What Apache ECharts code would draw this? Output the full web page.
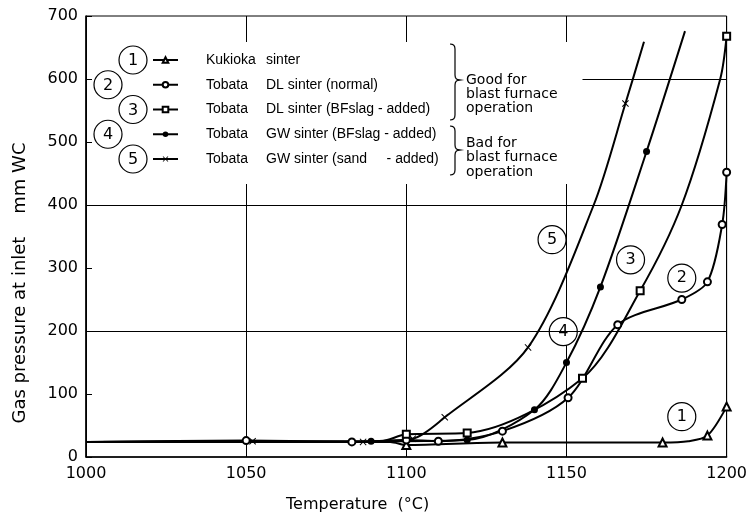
<!DOCTYPE html>
<html>
<head>
<meta charset="utf-8">
<script src="https://cdn.jsdelivr.net/npm/echarts@6/dist/echarts.min.js"></script>
<style>
  html, body { margin: 0; background: #fff; }
  #chart { width: 750px; height: 515px; }
</style>
</head>
<body>
<div id="chart"></div>
<script>
// legend wording, two columns
var sourceNames = ['Kukioka', 'Tobata', 'Tobata', 'Tobata', 'Tobata'];
var kindNames = ['sinter', 'DL sinter (normal)', 'DL sinter (BFslag - added)',
  'GW sinter (BFslag - added)', 'GW sinter (sand     - added)'];
var tagNumbers = ['1', '2', '3', '4', '5'];

// temperature (°C) / gas pressure (mm WC)
// plain = indices drawn without a marker
var tempKukioka = [1000, 1095, 1100, 1130, 1180, 1188, 1194, 1200];
var presKukioka = [24, 24, 19, 23, 23, 25, 34, 80];
var plainKukioka = [0, 1, 5];

var tempDlNormal = [1000, 1050, 1083, 1100, 1110, 1130, 1150.5, 1166, 1186, 1194, 1198.6, 1200];
var presDlNormal = [24, 26, 24, 27, 25, 41, 94, 210, 250, 278, 369, 452];
var plainDlNormal = [0];

var tempDlSlag = [1000, 1092, 1100, 1119, 1155, 1173, 1186, 1198, 1200];
var presDlSlag = [24, 25, 36, 38, 125, 264, 400, 600, 668];
var plainDlSlag = [0, 1, 6, 7];

var tempGwSlag = [1000, 1089, 1119, 1140, 1150, 1160.6, 1175, 1187];
var presGwSlag = [24, 25, 27, 75, 150, 270, 485, 676];
var plainGwSlag = [0, 7];

var tempGwSand = [1000, 1052, 1086.5, 1102, 1112, 1138, 1158.5, 1168.4, 1174.2];
var presGwSand = [24, 25, 24, 29, 63, 174, 400, 561, 659];
var plainGwSand = [0, 6, 8];

// circled curve numbers inside the plot
var tagTemp = [1186, 1186, 1170, 1149, 1145.5];
var tagPres = [64, 284, 313, 199, 345];

var yTicks = [0, 100, 200, 300, 400, 500, 600, 700];

var crossPath = 'path://M0,1L1,0L5,4L9,0L10,1L6,5L10,9L9,10L5,6L1,10L0,9L4,5Z';
var symbols = ['emptyTriangle', 'emptyCircle', 'emptyRect', 'circle', crossPath];
var symbolSizes = [8, 7, 7, 7, 7];

var curves = [
  [tempKukioka, presKukioka, plainKukioka],
  [tempDlNormal, presDlNormal, plainDlNormal],
  [tempDlSlag, presDlSlag, plainDlSlag],
  [tempGwSlag, presGwSlag, plainGwSlag],
  [tempGwSand, presGwSand, plainGwSand]
];

function seriesName(i) {
  return sourceNames[i] + ' ' + kindNames[i];
}

function points(xs, ys, plain) {
  return xs.map(function (x, i) {
    if (plain.indexOf(i) >= 0) return { value: [x, ys[i]], symbol: 'none' };
    return [x, ys[i]];
  });
}

// right-hand curly brace as a polyline: x of the spine, top, tip, bottom
function brace(x, top, tip, bottom) {
  var pts = [];
  function quad(p0, p1, p2) {
    for (var t = 0; t <= 1.0001; t += 0.25) {
      var u = 1 - t;
      pts.push([u * u * p0[0] + 2 * u * t * p1[0] + t * t * p2[0],
                u * u * p0[1] + 2 * u * t * p1[1] + t * t * p2[1]]);
    }
  }
  quad([x - 5, top], [x, top], [x, top + 5]);
  quad([x, tip - 5], [x, tip], [x + 5, tip]);
  quad([x + 5, tip], [x, tip], [x, tip + 5]);
  quad([x, bottom - 5], [x, bottom], [x - 5, bottom]);
  return pts;
}

var chart = echarts.init(document.getElementById('chart'));

var legendTop = 53;
var rowStep = 24.75;

var series = curves.map(function (c, i) {
  return {
    name: seriesName(i),
    type: 'line',
    data: points(c[0], c[1], c[2]),
    smooth: 0.3,
    symbol: symbols[i],
    symbolSize: symbolSizes[i],
    lineStyle: { color: '#000', width: 2 },
    itemStyle: { color: '#000', borderWidth: 1.2 },
    z: 3
  };
});

// horizontal rules at 200, 400 and the short one at 600
series[0].markLine = {
  silent: true,
  symbol: 'none',
  label: { show: false },
  lineStyle: { color: '#000', width: 1, type: 'solid' },
  data: [
    { yAxis: 200 },
    { yAxis: 400 },
    [{ coord: [1155, 600] }, { coord: [1200, 600] }]
  ]
};

series.push({
  name: 'tags',
  type: 'scatter',
  data: tagTemp.map(function (t, i) { return [t, tagPres[i]]; }),
  symbol: 'circle',
  symbolSize: 28,
  itemStyle: { color: '#fff', borderColor: '#000', borderWidth: 1.2, opacity: 1 },
  label: {
    show: true,
    position: 'inside',
    color: '#000',
    fontSize: 16,
    fontFamily: 'DejaVu Sans',
    formatter: function (p) { return tagNumbers[p.dataIndex]; }
  },
  z: 4
});

var graphics = [
  // blank strip behind the key so the grid lines stop there
  { type: 'rect', z: 1, shape: { x: 200, y: 42, width: 375, height: 142 }, style: { fill: '#fff' } },
  {
    type: 'polyline', z: 5,
    shape: { points: brace(455, 44, 80, 120) },
    style: { fill: 'none', stroke: '#000', lineWidth: 1.2 }
  },
  {
    type: 'polyline', z: 5,
    shape: { points: brace(455, 126, 150, 175) },
    style: { fill: 'none', stroke: '#000', lineWidth: 1.2 }
  },
  {
    type: 'text', z: 5, x: 466, y: 73,
    style: { text: 'Good for\nblast furnace\noperation', fontSize: 14, fontFamily: 'DejaVu Sans', lineHeight: 14, fill: '#000', textVerticalAlign: 'top' }
  },
  {
    type: 'text', z: 5, x: 466, y: 136,
    style: { text: 'Bad for\nblast furnace\noperation', fontSize: 14, fontFamily: 'DejaVu Sans', lineHeight: 14.5, fill: '#000', textVerticalAlign: 'top' }
  },
  {
    type: 'text', z: 5, x: 20, y: 283, rotation: Math.PI / 2,
    style: { text: 'Gas pressure at inlet    mm WC', fontSize: 18, fontFamily: 'DejaVu Sans', fill: '#000', textAlign: 'center', textVerticalAlign: 'middle' }
  },
  {
    type: 'text', z: 5, x: 286, y: 505,
    style: { text: 'Temperature  (°C)', fontSize: 16, fontFamily: 'DejaVu Sans', fill: '#000', textAlign: 'left', textVerticalAlign: 'middle' }
  }
];

// circled numbers in front of the key rows
tagNumbers.forEach(function (n, i) {
  var cx = i % 2 === 0 ? 133 : 108;
  var cy = legendTop + 7 + i * rowStep;
  graphics.push({
    type: 'circle', z: 5,
    shape: { cx: cx, cy: cy, r: 14 },
    style: { fill: '#fff', stroke: '#000', lineWidth: 1.2 }
  });
  graphics.push({
    type: 'text', z: 6, x: cx, y: cy + 1,
    style: { text: n, fontSize: 16, fontFamily: 'DejaVu Sans', fill: '#000', textAlign: 'center', textVerticalAlign: 'middle' }
  });
});

var option = {
  animation: false,
  backgroundColor: '#fff',
  grid: {
    left: 86, right: 23, top: 16, bottom: 58,
    show: true, borderColor: '#000', borderWidth: 1
  },
  legend: {
    data: curves.map(function (c, i) { return seriesName(i); }),
    orient: 'vertical',
    left: 152,
    top: legendTop,
    padding: 0,
    itemWidth: 25,
    itemHeight: 7,
    itemGap: rowStep - 14,
    selectedMode: false,
    lineStyle: { width: 2 },
    formatter: function (name) {
      var i = curves.findIndex(function (c, k) { return seriesName(k) === name; });
      return '{a|' + sourceNames[i] + '}{b|' + kindNames[i] + '}';
    },
    textStyle: {
      padding: [0, 0, 0, 23],
      lineHeight: 14,
      rich: {
        a: { width: 60, fontSize: 14, fontFamily: 'Liberation Sans', color: '#000', lineHeight: 14 },
        b: { fontSize: 14, fontFamily: 'Liberation Sans', color: '#000', lineHeight: 14 }
      }
    }
  },
  xAxis: {
    type: 'value',
    min: 1000,
    max: 1200,
    interval: 50,
    axisLine: { lineStyle: { color: '#000', width: 1.5 } },
    axisTick: { show: false },
    axisLabel: {
      color: '#000', fontSize: 16, fontFamily: 'DejaVu Sans', margin: 9,
      formatter: function (v) { return String(v); }
    },
    splitLine: { show: true, lineStyle: { color: '#000', width: 1 } }
  },
  yAxis: {
    type: 'value',
    min: yTicks[0],
    max: yTicks[yTicks.length - 1],
    interval: 100,
    axisLine: { show: true, lineStyle: { color: '#000', width: 1.5 } },
    axisTick: { show: true, inside: true, length: 6, lineStyle: { color: '#000' } },
    axisLabel: { color: '#000', fontSize: 16, fontFamily: 'DejaVu Sans', margin: 8 },
    splitLine: { show: false }
  },
  graphic: graphics,
  series: series
};

chart.setOption(option);
</script>
</body>
</html>
